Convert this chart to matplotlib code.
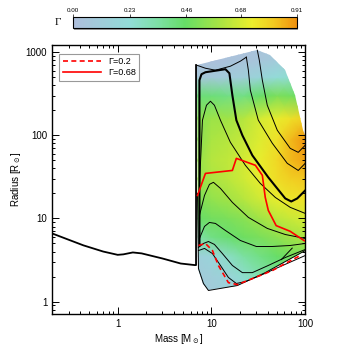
import numpy as np
import matplotlib
matplotlib.use('Agg')
import matplotlib.pyplot as plt
from matplotlib.colors import LinearSegmentedColormap
from matplotlib.patches import Polygon
from matplotlib.ticker import FixedLocator, FixedFormatter, LogLocator, NullFormatter

plt.rcParams['font.family'] = ['Liberation Sans', 'DejaVu Sans']

# --- Eddington factor field ---
grid_mass = [7, 10, 15, 22, 33, 50, 70, 100]
grid_radius = [1.3, 2, 3.5, 6, 10, 17, 30, 50, 90, 160, 300, 500, 800, 1300]
gamma_values = [
    [0.10, 0.10, 0.14, 0.22, 0.28, 0.33, 0.38, 0.42],
    [0.10, 0.12, 0.16, 0.25, 0.32, 0.38, 0.42, 0.45],
    [0.13, 0.17, 0.27, 0.35, 0.40, 0.45, 0.48, 0.50],
    [0.33, 0.40, 0.44, 0.47, 0.50, 0.54, 0.58, 0.60],
    [0.45, 0.48, 0.50, 0.53, 0.58, 0.63, 0.66, 0.68],
    [0.50, 0.55, 0.58, 0.62, 0.67, 0.72, 0.75, 0.76],
    [0.55, 0.60, 0.63, 0.67, 0.72, 0.77, 0.80, 0.82],
    [0.55, 0.62, 0.64, 0.68, 0.72, 0.78, 0.84, 0.88],
    [0.52, 0.60, 0.62, 0.65, 0.70, 0.76, 0.84, 0.90],
    [0.52, 0.57, 0.58, 0.62, 0.68, 0.72, 0.76, 0.80],
    [0.42, 0.42, 0.40, 0.40, 0.45, 0.50, 0.48, 0.45],
    [0.07, 0.08, 0.10, 0.12, 0.17, 0.22, 0.25, 0.25],
    [0.02, 0.02, 0.03, 0.04, 0.06, 0.10, 0.12, 0.10],
    [0.00, 0.00, 0.01, 0.02, 0.03, 0.06, 0.08, 0.08],
]

# outline of the covered region
edge_mass = [6.95, 30.85, 42.4, 61.3, 78.3, 95.2, 100, 100, 37.5, 27.3, 18.9, 9.29, 8.22, 7.27, 6.95]
edge_radius = [696, 1057, 920, 607, 303, 115, 100, 4.11, 2.23, 1.89, 1.56, 1.36, 1.65, 2.50, 696]

# lower boundary drawn in black
low_mass = [7.1, 7.27, 8.22, 9.29, 18.9, 27.3, 37.5, 100]
low_radius = [20.0, 2.50, 1.65, 1.36, 1.56, 1.89, 2.23, 4.11]

# ZAMS-like line
zams_mass = [0.2, 0.43, 0.7, 1.0, 1.15, 1.45, 1.8, 3.0, 4.7, 6.6, 6.85, 6.85]
zams_radius = [6.6, 4.75, 4.0, 3.65, 3.7, 3.9, 3.8, 3.3, 2.87, 2.75, 2.75, 700]

# thick track
thick_mass = [7.45, 7.45, 7.83, 8.63, 14.09, 15.54, 16.72, 18.44, 21.37, 27.3, 40.4, 61.3, 71.0, 82.2, 100]
thick_radius = [4.73, 460, 543, 574, 624, 558, 303, 152, 100, 57.4, 31.2, 17.4, 16.0, 17.4, 21.7]

# thin tracks
thin_tracks = [
    ([7.0, 8.63, 11.03, 15.92, 20.35, 23.57],
     [696, 641, 607, 678, 780, 871]),
    ([23.57, 24.76, 26.0, 31.6, 44.6, 64.4, 84.3, 100],
     [871, 607, 348, 152, 80.2, 46.0, 37.8, 46.0]),
    ([30.85, 32.4, 34.9, 39.4, 50.4, 69.2, 84.3, 100],
     [1057, 801, 460, 230, 115, 69.7, 62.4, 75.9]),
    ([7.45, 8.02, 8.85, 9.76, 10.76, 12.47, 15.92, 23.0, 33.2, 48.0, 69.2, 100],
     [25.0, 152, 230, 257, 230, 152, 82.4, 43.6, 26.4, 17.9, 13.6, 11.5]),
    ([7.45, 8.43, 9.52, 10.5, 12.47, 16.72, 24.76, 39.4, 61.3, 100],
     [10.9, 18.9, 25.7, 27.2, 23.0, 15.6, 10.3, 7.59, 6.41, 5.74]),
    ([7.45, 8.43, 9.52, 11.03, 14.09, 20.35, 30.1, 44.6, 69.2, 100],
     [5.74, 8.02, 8.95, 8.71, 7.17, 5.43, 4.6, 4.6, 4.73, 5.0]),
    ([7.27, 8.22, 9.29, 10.76, 13.09, 16.72, 21.37, 27.3, 40.4, 61.3, 100],
     [4.48, 5.0, 5.28, 4.87, 3.78, 2.72, 2.23, 2.23, 2.72, 3.39, 4.23]),
    ([7.27, 8.43, 10.25, 12.47, 15.17, 18.44, 23.0, 33.2, 54.2, 100],
     [4.11, 4.36, 3.78, 2.72, 1.95, 1.65, 1.74, 2.06, 2.64, 3.58]),
    ([55.6, 72.7], [3.2, 4.4]),
]

# Gamma = 0.2 and 0.68 lines
g02_mass = [7.27, 8.63, 10.25, 11.86, 15.17, 18.91, 27.3, 44.6, 61.3, 88.5]
g02_radius = [4.73, 5.0, 4.11, 2.72, 1.69, 1.60, 1.89, 2.36, 2.87, 3.58]
g068_mass = [7.1, 8.63, 16.72, 18.44, 29.4, 34.9, 37.5, 40.4, 49.0, 69.2, 97.6]
g068_radius = [18.9, 34.8, 37.8, 52.8, 43.6, 33.0, 17.9, 12.5, 8.2, 7.0, 5.4]

cbar_ticks = [0.0, 0.23, 0.46, 0.68, 0.91]

cmap = LinearSegmentedColormap.from_list('gam', [
    (0.00, '#aebedb'),
    (0.25, '#92dcd8'),
    (0.38, '#7de0a4'),
    (0.50, '#66dd66'),
    (0.65, '#a6e444'),
    (0.80, '#ecee2c'),
    (0.90, '#f2c820'),
    (1.00, '#f0900e'),
])

fig = plt.figure(figsize=(3.5, 3.5), dpi=100)
ax = fig.add_axes([0.149, 0.103, 0.723, 0.768])
ax.set_xscale('log')
ax.set_yscale('log')

M, R = np.meshgrid(grid_mass, grid_radius)
mesh = ax.pcolormesh(M, R, np.array(gamma_values), shading='gouraud',
                     cmap=cmap, vmin=0, vmax=0.91, zorder=1)
region = Polygon(np.column_stack([edge_mass, edge_radius]), closed=True,
                 transform=ax.transData, facecolor='none', edgecolor='none')
ax.add_patch(region)
mesh.set_clip_path(region)

ax.plot(low_mass, low_radius, color='black', lw=0.7, zorder=3)
for tm, tr in thin_tracks:
    ax.plot(tm, tr, color='black', lw=0.7, zorder=3)
ax.plot(thick_mass, thick_radius, color='black', lw=1.5, zorder=3)
ax.plot(zams_mass, zams_radius, color='black', lw=1.3, zorder=3)

ax.plot(g02_mass, g02_radius, color='red', lw=1.2, ls=(0, (3, 2)), zorder=4, label='\u0393=0.2')
ax.plot(g068_mass, g068_radius, color='red', lw=1.2, zorder=4, label='\u0393=0.68')

ax.set_xlim(0.2, 100)
ax.set_ylim(0.71, 1215)

ax.xaxis.set_major_locator(FixedLocator([1, 10, 100]))
ax.xaxis.set_major_formatter(FixedFormatter(['1', '10', '100']))
ax.yaxis.set_major_locator(FixedLocator([1, 10, 100, 1000]))
ax.yaxis.set_major_formatter(FixedFormatter(['1', '10', '100', '1000']))
for a in (ax.xaxis, ax.yaxis):
    a.set_minor_locator(LogLocator(base=10, subs=np.arange(2, 10)))
    a.set_minor_formatter(NullFormatter())
ax.tick_params(which='both', direction='in', top=True, right=True, labelsize=7, width=0.7)
ax.tick_params(which='major', length=5)
ax.tick_params(which='minor', length=2.5)
for s in ax.spines.values():
    s.set_linewidth(1.0)

ax.set_xlabel('Mass [M$_\\odot$]', fontsize=7, labelpad=2)
ax.set_ylabel('Radius [R$_\\odot$]', fontsize=7, labelpad=2)

leg = ax.legend(loc='upper left', fontsize=6.5, frameon=True, fancybox=False,
                edgecolor='gray', handlelength=4.2, borderpad=0.4,
                labelspacing=0.2, bbox_to_anchor=(0.01, 0.985))
leg.get_frame().set_linewidth(0.8)

# colour bar on top, with a grey shadow underneath
shadow = fig.add_axes([0.212, 0.914, 0.64, 0.031])
shadow.set_facecolor('#999999')
shadow.set_xticks([])
shadow.set_yticks([])
for s in shadow.spines.values():
    s.set_visible(False)
cax = fig.add_axes([0.209, 0.92, 0.64, 0.031])
cb = fig.colorbar(mesh, cax=cax, orientation='horizontal')
cax.xaxis.set_ticks_position('top')
cb.set_ticks(cbar_ticks)
cb.set_ticklabels(['%.2f' % t for t in cbar_ticks])
cax.tick_params(labelsize=4.5, length=2, width=0.5, pad=1)
cb.outline.set_linewidth(0.8)
fig.text(0.165, 0.935, '\u0393', fontsize=8, family='Liberation Serif', ha='center', va='center')

fig.savefig('out.png', dpi=100)
